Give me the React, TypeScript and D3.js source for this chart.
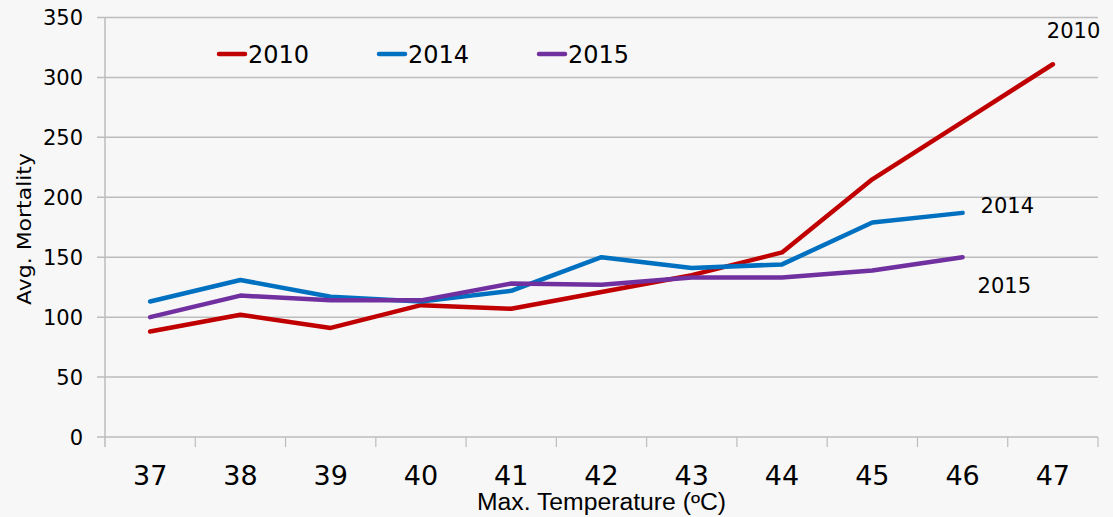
import React, { useEffect, useRef } from 'react';
import * as d3 from 'd3';

const temps = ['37', '38', '39', '40', '41', '42', '43', '44', '45', '46', '47'];
const series2010 = [88, 102, 91, 110, 107, 121, 135, 154, 215, 263, 311];
const series2014 = [113, 131, 117, 113, 122, 150, 141, 144, 179, 187];
const series2015 = [100, 118, 114, 114, 128, 127, 133, 133, 139, 150];
const yTicks = [0, 50, 100, 150, 200, 250, 300, 350];

const seriesList = [
  { name: '2010', values: series2010, color: '#c00000', labelDx: -6, labelDy: -26 },
  { name: '2014', values: series2014, color: '#0070c0', labelDx: 18, labelDy: 0 },
  { name: '2015', values: series2015, color: '#7030a0', labelDx: 15, labelDy: 36 },
];

const FONT = 'DejaVu Sans, Verdana, sans-serif';

export default function App() {
  const ref = useRef<SVGSVGElement>(null);

  useEffect(() => {
    const width = 1113;
    const height = 517;
    const margin = { top: 17.5, right: 15, bottom: 80, left: 105 };

    const svg = d3.select(ref.current);
    svg.selectAll('*').remove();

    svg.append('rect').attr('width', width).attr('height', height).attr('fill', '#f7f7f7');

    const x = d3.scaleBand().domain(temps).range([margin.left, width - margin.right]);
    const y = d3.scaleLinear().domain([0, 350]).range([height - margin.bottom, margin.top]);

    // gridlines
    svg
      .append('g')
      .selectAll('line')
      .data(yTicks)
      .enter()
      .append('line')
      .attr('x1', margin.left - 8)
      .attr('x2', width - margin.right)
      .attr('y1', (d) => y(d))
      .attr('y2', (d) => y(d))
      .attr('stroke', '#bdbdbd')
      .attr('stroke-width', 1.5);

    // y axis line
    svg
      .append('line')
      .attr('x1', margin.left)
      .attr('x2', margin.left)
      .attr('y1', y(350))
      .attr('y2', y(0) + 10)
      .attr('stroke', '#bdbdbd')
      .attr('stroke-width', 1.5);

    // x tick marks at band edges
    const edges = temps.map((t) => (x(t) as number) + x.bandwidth());
    svg
      .append('g')
      .selectAll('line')
      .data(edges)
      .enter()
      .append('line')
      .attr('x1', (d) => d)
      .attr('x2', (d) => d)
      .attr('y1', y(0))
      .attr('y2', y(0) + 10)
      .attr('stroke', '#bdbdbd')
      .attr('stroke-width', 1.2);

    // y tick labels
    svg
      .append('g')
      .selectAll('text')
      .data(yTicks)
      .enter()
      .append('text')
      .attr('x', margin.left - 22)
      .attr('y', (d) => y(d) + 7.5)
      .attr('text-anchor', 'end')
      .attr('font-family', FONT)
      .attr('font-size', 21)
      .attr('fill', '#000')
      .text((d) => d);

    // x tick labels
    svg
      .append('g')
      .selectAll('text')
      .data(temps)
      .enter()
      .append('text')
      .attr('x', (d) => (x(d) as number) + x.bandwidth() / 2)
      .attr('y', 485)
      .attr('text-anchor', 'middle')
      .attr('font-family', FONT)
      .attr('font-size', 27)
      .attr('fill', '#000')
      .text((d) => d);

    // axis titles
    svg
      .append('text')
      .attr('x', 477)
      .attr('y', 510)
      .attr('textLength', 249)
      .attr('lengthAdjust', 'spacingAndGlyphs')
      .attr('font-family', 'Liberation Sans, Arial, sans-serif')
      .attr('font-size', 23)
      .attr('fill', '#000')
      .text('Max. Temperature (ºC)');

    svg
      .append('text')
      .attr('transform', `translate(31, 305) rotate(-90)`)
      .attr('textLength', 152)
      .attr('lengthAdjust', 'spacingAndGlyphs')
      .attr('font-family', FONT)
      .attr('font-size', 19)
      .attr('fill', '#000')
      .text('Avg. Mortality');

    // lines
    const line = d3
      .line<number>()
      .x((_, i) => (x(temps[i]) as number) + x.bandwidth() / 2)
      .y((d) => y(d));

    seriesList.forEach((s) => {
      svg
        .append('path')
        .datum(s.values)
        .attr('d', line)
        .attr('fill', 'none')
        .attr('stroke', s.color)
        .attr('stroke-width', 4.5)
        .attr('stroke-linecap', 'round')
        .attr('stroke-linejoin', 'round');

      const last = s.values.length - 1;
      svg
        .append('text')
        .attr('x', (x(temps[last]) as number) + x.bandwidth() / 2 + s.labelDx)
        .attr('y', y(s.values[last]) + s.labelDy)
        .attr('font-family', FONT)
        .attr('font-size', 21)
        .attr('fill', '#000')
        .text(s.name);
    });

    // legend
    const legend = svg.append('g');
    seriesList.forEach((s, i) => {
      const lx = 219 + i * 160;
      legend
        .append('line')
        .attr('x1', lx)
        .attr('x2', lx + 26)
        .attr('y1', 54)
        .attr('y2', 54)
        .attr('stroke', s.color)
        .attr('stroke-width', 4.5)
        .attr('stroke-linecap', 'round');
      legend
        .append('text')
        .attr('x', lx + 29)
        .attr('y', 63)
        .attr('font-family', FONT)
        .attr('font-size', 24)
        .attr('fill', '#000')
        .text(s.name);
    });
  }, []);

  return (
    <svg
      ref={ref}
      width={1113}
      height={517}
      style={{ position: 'absolute', left: 0, top: 0, display: 'block' }}
    />
  );
}
